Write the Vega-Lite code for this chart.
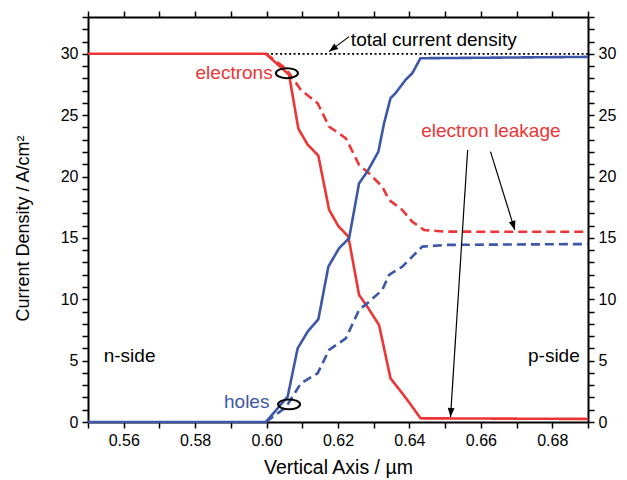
{
  "$schema": "https://vega.github.io/schema/vega-lite/v6.json",
  "width": 500,
  "height": 405,
  "autosize": "none",
  "padding": {"left": 88, "top": 17, "right": 39, "bottom": 58},
  "background": "white",
  "config": {
    "view": {"stroke": null},
    "font": "Liberation Sans",
    "axis": {
      "domainColor": "black", "domainWidth": 2, "tickColor": "black", "tickWidth": 1.5,
      "tickSize": 6, "labelColor": "black", "labelFontSize": 16, "labelFont": "Liberation Sans",
      "titleFont": "Liberation Sans", "titleFontSize": 18, "titleFontWeight": "normal", "titleColor": "black",
      "grid": false, "labelPadding": 4
    }
  },
  "datasets": {
    "curves": [
      {"series": "e", "x": 0.55, "y": 30}, {"series": "e", "x": 0.5998, "y": 30}, {"series": "e", "x": 0.6063, "y": 28.3},
      {"series": "e", "x": 0.6089, "y": 23.9}, {"series": "e", "x": 0.6115, "y": 22.6}, {"series": "e", "x": 0.6145, "y": 21.7},
      {"series": "e", "x": 0.6175, "y": 17.3}, {"series": "e", "x": 0.62, "y": 16.0}, {"series": "e", "x": 0.6229, "y": 15.1},
      {"series": "e", "x": 0.6259, "y": 10.35}, {"series": "e", "x": 0.6282, "y": 9.4}, {"series": "e", "x": 0.6315, "y": 7.9},
      {"series": "e", "x": 0.6347, "y": 3.56}, {"series": "e", "x": 0.638, "y": 2.34}, {"series": "e", "x": 0.6408, "y": 1.25},
      {"series": "e", "x": 0.6431, "y": 0.3}, {"series": "e", "x": 0.69, "y": 0.25},
      {"series": "eleak", "x": 0.5998, "y": 30}, {"series": "eleak", "x": 0.6054, "y": 28.8}, {"series": "eleak", "x": 0.6096, "y": 27.06},
      {"series": "eleak", "x": 0.6143, "y": 25.97}, {"series": "eleak", "x": 0.6175, "y": 24.07}, {"series": "eleak", "x": 0.6222, "y": 23.12},
      {"series": "eleak", "x": 0.6259, "y": 20.95}, {"series": "eleak", "x": 0.6287, "y": 20.27}, {"series": "eleak", "x": 0.6324, "y": 19.18},
      {"series": "eleak", "x": 0.6343, "y": 18.09}, {"series": "eleak", "x": 0.638, "y": 17.28}, {"series": "eleak", "x": 0.6408, "y": 16.32},
      {"series": "eleak", "x": 0.6441, "y": 15.65}, {"series": "eleak", "x": 0.6501, "y": 15.51}, {"series": "eleak", "x": 0.69, "y": 15.5},
      {"series": "h", "x": 0.55, "y": 0}, {"series": "h", "x": 0.5998, "y": 0}, {"series": "h", "x": 0.6059, "y": 2.06},
      {"series": "h", "x": 0.6087, "y": 6.0}, {"series": "h", "x": 0.6115, "y": 7.36}, {"series": "h", "x": 0.6145, "y": 8.37},
      {"series": "h", "x": 0.6173, "y": 12.66}, {"series": "h", "x": 0.6203, "y": 14.16}, {"series": "h", "x": 0.6231, "y": 14.97},
      {"series": "h", "x": 0.6259, "y": 19.45}, {"series": "h", "x": 0.6282, "y": 20.4}, {"series": "h", "x": 0.6313, "y": 22.03},
      {"series": "h", "x": 0.6329, "y": 24.34}, {"series": "h", "x": 0.6347, "y": 26.38}, {"series": "h", "x": 0.6361, "y": 26.79},
      {"series": "h", "x": 0.6389, "y": 27.87}, {"series": "h", "x": 0.6408, "y": 28.42}, {"series": "h", "x": 0.6431, "y": 29.64},
      {"series": "h", "x": 0.69, "y": 29.75},
      {"series": "hleak", "x": 0.5998, "y": 0}, {"series": "hleak", "x": 0.6054, "y": 1.2}, {"series": "hleak", "x": 0.6096, "y": 3.15},
      {"series": "hleak", "x": 0.6143, "y": 3.97}, {"series": "hleak", "x": 0.6175, "y": 5.87}, {"series": "hleak", "x": 0.6222, "y": 6.82},
      {"series": "hleak", "x": 0.6259, "y": 9.13}, {"series": "hleak", "x": 0.6287, "y": 9.8}, {"series": "hleak", "x": 0.6324, "y": 10.76},
      {"series": "hleak", "x": 0.6343, "y": 11.98}, {"series": "hleak", "x": 0.638, "y": 12.66}, {"series": "hleak", "x": 0.6408, "y": 13.47},
      {"series": "hleak", "x": 0.6436, "y": 14.29}, {"series": "hleak", "x": 0.6501, "y": 14.43}, {"series": "hleak", "x": 0.69, "y": 14.5}
    ],
    "total": [{"x": 0.6, "y": 30}, {"x": 0.69, "y": 30}],
    "arrows": [
      {"id": "a1", "x": 0.6231, "y": 31.4}, {"id": "a1", "x": 0.6175, "y": 30.18},
      {"id": "a2", "x": 0.6563, "y": 22.17}, {"id": "a2", "x": 0.6515, "y": 0.4},
      {"id": "a3", "x": 0.6627, "y": 22.03}, {"id": "a3", "x": 0.6695, "y": 15.65}
    ],
    "heads": [
      {"x": 0.6175, "y": 30.18, "angle": 233},
      {"x": 0.6515, "y": 0.4, "angle": 184},
      {"x": 0.6695, "y": 15.65, "angle": 163}
    ],
    "ellipses": [
      {"x": 0.6057, "y": 28.42}, {"x": 0.6063, "y": 1.44}
    ],
    "leftText": [
      {"label": "total current density", "x": 0.6236, "y": 31.13, "kind": "#000000"},
      {"label": "n-side", "x": 0.5544, "y": 5.38, "kind": "#000000"},
      {"label": "p-side", "x": 0.6732, "y": 5.38, "kind": "#000000"}
    ],
    "rightText": [
      {"label": "electrons", "x": 0.6017, "y": 28.42, "kind": "#EE3535"},
      {"label": "holes", "x": 0.6008, "y": 1.65, "kind": "#3D57A8"}
    ],
    "centerText": [
      {"label": "electron leakage", "x": 0.6628, "y": 23.74, "kind": "#EE3535"}
    ]
  },
  "resolve": {"axis": {"x": "independent", "y": "independent"}},
  "layer": [
    {
      "data": {"name": "total"},
      "mark": {"type": "line", "color": "black", "strokeWidth": 1.8, "strokeDash": [2, 2.5]},
      "encoding": {
        "x": {"field": "x", "type": "quantitative", "scale": {"domain": [0.55, 0.69], "nice": false, "zero": false},
          "axis": {"orient": "bottom", "title": "Vertical Axis / µm", "titleFontSize": 19.5,
            "values": [0.55, 0.56, 0.57, 0.58, 0.59, 0.6, 0.61, 0.62, 0.63, 0.64, 0.65, 0.66, 0.67, 0.68, 0.69],
            "labelExpr": "round(datum.value*100) % 2 == 0 ? format(datum.value, '.2f') : ''", "titlePadding": 10}},
        "y": {"field": "y", "type": "quantitative", "scale": {"domain": [0, 33], "nice": false, "zero": false},
          "axis": {"orient": "left", "title": "Current Density / A/cm²", "titleY": 211,
            "values": [0,1,2,3,4,5,6,7,8,9,10,11,12,13,14,15,16,17,18,19,20,21,22,23,24,25,26,27,28,29,30,31,32,33],
            "labelExpr": "datum.value % 5 == 0 ? datum.label : ''", "titlePadding": 28}}
      }
    },
    {
      "data": {"name": "curves"},
      "mark": {"type": "line", "strokeWidth": 2.6},
      "encoding": {
        "x": {"field": "x", "type": "quantitative", "scale": {"domain": [0.55, 0.69], "nice": false, "zero": false},
          "axis": {"orient": "top", "title": null, "labels": false,
            "values": [0.55, 0.56, 0.57, 0.58, 0.59, 0.6, 0.61, 0.62, 0.63, 0.64, 0.65, 0.66, 0.67, 0.68, 0.69]}},
        "y": {"field": "y", "type": "quantitative", "scale": {"domain": [0, 33], "nice": false, "zero": false},
          "axis": {"orient": "right", "title": null,
            "values": [0,1,2,3,4,5,6,7,8,9,10,11,12,13,14,15,16,17,18,19,20,21,22,23,24,25,26,27,28,29,30,31,32,33],
            "labelExpr": "datum.value % 5 == 0 ? datum.label : ''"}},
        "color": {"field": "series", "type": "nominal", "legend": null,
          "scale": {"domain": ["e", "eleak", "h", "hleak"], "range": ["#EE3535", "#EE3535", "#3D57A8", "#3D57A8"]}},
        "strokeDash": {"field": "series", "type": "nominal", "legend": null,
          "scale": {"domain": ["e", "eleak", "h", "hleak"], "range": [[1, 0], [9, 5], [1, 0], [9, 5]]}}
      }
    },
    {
      "data": {"name": "arrows"},
      "mark": {"type": "line", "color": "black", "strokeWidth": 1.2},
      "encoding": {
        "x": {"field": "x", "type": "quantitative", "axis": null},
        "y": {"field": "y", "type": "quantitative", "axis": null},
        "detail": {"field": "id"}
      }
    },
    {
      "data": {"name": "heads"},
      "mark": {"type": "point", "shape": "M0,0 L-0.38,1 L0.38,1 Z", "filled": true, "color": "black", "opacity": 1, "size": 324, "strokeWidth": 0},
      "encoding": {
        "x": {"field": "x", "type": "quantitative", "axis": null},
        "y": {"field": "y", "type": "quantitative", "axis": null},
        "angle": {"field": "angle", "type": "quantitative", "scale": null}
      }
    },
    {
      "data": {"name": "ellipses"},
      "mark": {"type": "point", "shape": "M-1,0 A1,0.45 0 1,0 1,0 A1,0.45 0 1,0 -1,0 Z", "filled": false, "color": "black", "opacity": 1, "size": 484, "strokeWidth": 2},
      "encoding": {
        "x": {"field": "x", "type": "quantitative", "axis": null},
        "y": {"field": "y", "type": "quantitative", "axis": null}
      }
    },
    {
      "data": {"name": "leftText"},
      "mark": {"type": "text", "align": "left", "baseline": "middle", "fontSize": 19, "font": "Liberation Sans"},
      "encoding": {
        "x": {"field": "x", "type": "quantitative", "axis": null},
        "y": {"field": "y", "type": "quantitative", "axis": null},
        "text": {"field": "label"},
        "color": {"field": "kind", "type": "nominal", "legend": null, "scale": null}
      }
    },
    {
      "data": {"name": "rightText"},
      "mark": {"type": "text", "align": "right", "baseline": "middle", "fontSize": 19, "font": "Liberation Sans"},
      "encoding": {
        "x": {"field": "x", "type": "quantitative", "axis": null},
        "y": {"field": "y", "type": "quantitative", "axis": null},
        "text": {"field": "label"},
        "color": {"field": "kind", "type": "nominal", "legend": null, "scale": null}
      }
    },
    {
      "data": {"name": "centerText"},
      "mark": {"type": "text", "align": "center", "baseline": "middle", "fontSize": 19, "font": "Liberation Sans"},
      "encoding": {
        "x": {"field": "x", "type": "quantitative", "axis": null},
        "y": {"field": "y", "type": "quantitative", "axis": null},
        "text": {"field": "label"},
        "color": {"field": "kind", "type": "nominal", "legend": null, "scale": null}
      }
    }
  ]
}
